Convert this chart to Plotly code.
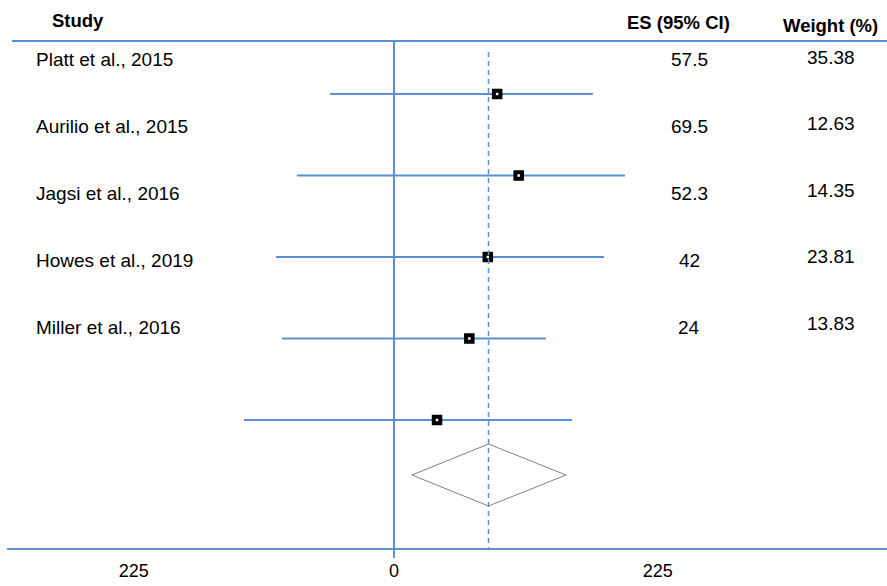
import plotly.graph_objects as go

# Study-level estimates
studies = ["Platt et al., 2015", "Aurilio et al., 2015", "Jagsi et al., 2016",
           "Howes et al., 2019", "Miller et al., 2016"]
es = [57.5, 69.5, 52.3, 42, 24]
ci_low = [-35.7, -54.1, -65.8, -62.4, -83.6]
ci_high = [110.9, 128.8, 117.1, 84.7, 99.2]
weights = [35.38, 12.63, 14.35, 23.81, 13.83]

# Pooled estimate
pooled_es = 52.7
pooled_low = 10.0
pooled_high = 95.9

# Axis ticks
tick_vals = [-145, 0, 147]
tick_text = ["225", "0", "225"]

# ---- layout constants (vertical axis is in pixel rows, top = 0) ----
W, H = 887, 586
PLOT_BOTTOM = 558
X_RANGE = [-219.6, 274.8]
LABEL_TOP, LABEL_STEP = 59, 67
WEIGHT_TOP, WEIGHT_STEP = 57, 66.5
MARK_TOP, MARK_STEP = 94, 81.5
HEADER_LINE_Y = 41
AXIS_LINE_Y = 549
DIAMOND_Y, DIAMOND_HALF = 475, 31

BLUE = "#5b8fd2"
FONT = "Liberation Sans, Arial, sans-serif"

n = len(studies)
mark_y = [MARK_TOP + MARK_STEP * i for i in range(n)]

fig = go.Figure()

# confidence interval whiskers
wx, wy = [], []
for lo, hi, y in zip(ci_low, ci_high, mark_y):
    wx += [lo, hi, None]
    wy += [y, y, None]
fig.add_trace(go.Scatter(x=wx, y=wy, mode="lines",
                         line=dict(color=BLUE, width=2), hoverinfo="skip"))

# point estimates
fig.add_trace(go.Scatter(x=es, y=mark_y, mode="markers",
                         marker=dict(symbol="square", size=9, color="black",
                                     line=dict(color="black", width=1.5))))
fig.add_trace(go.Scatter(x=es, y=mark_y, mode="markers",
                         marker=dict(symbol="square", size=2.5, color="white"),
                         hoverinfo="skip"))

# pooled diamond
fig.add_trace(go.Scatter(
    x=[pooled_low, pooled_es, pooled_high, pooled_es, pooled_low],
    y=[DIAMOND_Y, DIAMOND_Y - DIAMOND_HALF, DIAMOND_Y, DIAMOND_Y + DIAMOND_HALF, DIAMOND_Y],
    mode="lines", line=dict(color="#808080", width=1), hoverinfo="skip"))

shapes = [
    # line of no effect
    dict(type="line", xref="x", yref="y", x0=0, x1=0, y0=HEADER_LINE_Y, y1=PLOT_BOTTOM,
         line=dict(color=BLUE, width=2)),
    # pooled estimate reference
    dict(type="line", xref="x", yref="y", x0=pooled_es, x1=pooled_es, y0=52, y1=AXIS_LINE_Y,
         line=dict(color=BLUE, width=1.5, dash="5px,4px")),
    # header rule
    dict(type="line", xref="paper", yref="y", x0=0.0135, x1=1, y0=HEADER_LINE_Y, y1=HEADER_LINE_Y,
         line=dict(color=BLUE, width=2)),
    # horizontal axis rule
    dict(type="line", xref="paper", yref="y", x0=0.008, x1=1, y0=AXIS_LINE_Y, y1=AXIS_LINE_Y,
         line=dict(color=BLUE, width=2)),
]

ann = []
def txt(x_px, y, text, anchor="center", bold=False, size=19):
    ann.append(dict(xref="paper", yref="y", x=x_px / W, y=y, text=f"<b>{text}</b>" if bold else text,
                    showarrow=False, xanchor=anchor, yanchor="middle",
                    font=dict(family=FONT, size=size, color="black")))

txt(78, 20, "Study", bold=True, size=18.5)
txt(678, 22, "ES (95% CI)", bold=True, size=18.5)
txt(830, 25, "Weight (%)", bold=True, size=18.5)

for i, (s, e, w) in enumerate(zip(studies, es, weights)):
    txt(34, LABEL_TOP + LABEL_STEP * i, s, anchor="left")
    txt(689, LABEL_TOP + LABEL_STEP * i, f"{e:g}")
    txt(831, WEIGHT_TOP + WEIGHT_STEP * i, f"{w:.2f}")

fig.update_layout(
    width=W, height=H,
    margin=dict(l=0, r=0, t=0, b=H - PLOT_BOTTOM),
    paper_bgcolor="white", plot_bgcolor="white",
    showlegend=False,
    shapes=shapes, annotations=ann,
    xaxis=dict(range=X_RANGE, showgrid=False, zeroline=False, showline=False,
               tickmode="array", tickvals=tick_vals, ticktext=tick_text, ticks="",
               tickfont=dict(family=FONT, size=18, color="black")),
    yaxis=dict(range=[PLOT_BOTTOM, 0], showgrid=False, zeroline=False, showline=False,
               showticklabels=False, ticks=""),
)

fig.write_html("out.html")
